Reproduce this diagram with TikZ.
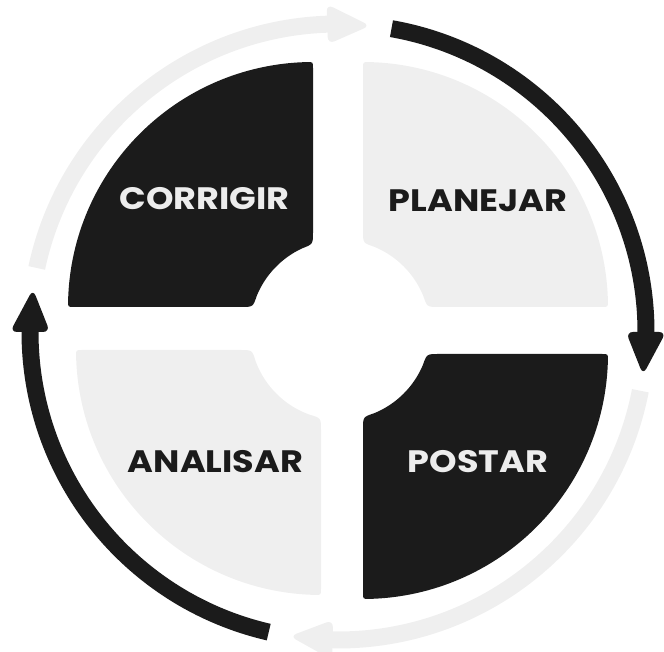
\documentclass[tikz,border=0pt]{standalone}
\usepackage{fontspec}
\newfontfamily\lblfont{Poppins}[FakeStretch=1.13]
\definecolor{dk}{HTML}{1B1B1B}
\definecolor{lt}{HTML}{EFEFEF}
\definecolor{lttext}{HTML}{EDEDED}
\def\hx{340}\def\hy{322}\def\rh{90}\def\Ro{245}\def\qfo{6}\def\qfi{12}
\newcommand\quadshape[7]{%
 \pgfmathsetmacro\qEx{\hx+(#5)*sqrt(\rh*\rh-((#2)-\hy)*((#2)-\hy))}%
 \pgfmathsetmacro\qDy{\hy+(#6)*sqrt(\rh*\rh-((#1)-\hx)*((#1)-\hx))}%
 \pgfmathsetmacro\qtE{atan2((#2)-\hy,\qEx-\hx)}%
 \pgfmathsetmacro\qtD{atan2(\qDy-\hy,(#1)-\hx)}%
 \pgfmathsetmacro\qdo{\qfo/\Ro*180/pi}%
 \pgfmathsetmacro\qdi{\qfi/\rh*180/pi}%
 \pgfmathsetmacro\qso{((#4)>(#3))*2-1}%
 \pgfmathsetmacro\qsi{(\qtE>\qtD)*2-1}%
 \pgfmathsetmacro\qaA{(#3)+\qso*\qdo}%
 \pgfmathsetmacro\qaB{(#4)-\qso*\qdo}%
 \pgfmathsetmacro\qaD{\qtD+\qsi*\qdi}%
 \pgfmathsetmacro\qaE{\qtE-\qsi*\qdi}%
 \fill[#7] ({\qEx+(#5)*\qfi},{#2}) -- ({#1+(#5)*(\Ro-\qfo)},{#2})
   .. controls ({#1+(#5)*\Ro},{#2}) .. ({#1+\Ro*cos(\qaA)},{#2+\Ro*sin(\qaA)})
   arc[start angle=\qaA, end angle=\qaB, radius=\Ro]
   .. controls ({#1},{#2+(#6)*\Ro}) .. ({#1},{#2+(#6)*(\Ro-\qfo)})
   -- ({#1},{\qDy+(#6)*\qfi})
   .. controls ({#1},{\qDy}) .. ({\hx+\rh*cos(\qaD)},{\hy+\rh*sin(\qaD)})
   arc[start angle=\qaD, end angle=\qaE, radius=\rh]
   .. controls ({\qEx},{#2}) .. ({\qEx+(#5)*\qfi},{#2}) -- cycle;
}
% ring arrow: #1 start angle, #2 base angle, #3 tip angle, #4 colour
\def\RR{308}\def\lw{17}\def\hw{20}
\newcommand\ringarrow[4]{%
 \draw[#4, line width=\lw pt] (#1:\RR) arc[start angle=#1, end angle={#2+(#3-#2)*0.15}, radius=\RR];
 \fill[#4, rounded corners=7pt] (#2:\RR+\hw) -- (#3:\RR) -- (#2:\RR-\hw) -- cycle;
}
\tikzset{
 lbl/.style={font=\lblfont\bfseries\fontsize{31}{31}\selectfont, anchor=base, inner sep=0pt},
}
\begin{document}
\begin{tikzpicture}[x=1pt,y=1pt]
\useasboundingbox (0,0) rectangle (664,652);
\quadshape{313}{345}{180}{90}{-1}{1}{dk}
\quadshape{363}{345}{0}{90}{1}{1}{lt}
\quadshape{363}{298}{0}{-90}{1}{-1}{dk}
\quadshape{321}{302}{180}{270}{-1}{-1}{lt}
\begin{scope}[shift={(338,320)}]
 \ringarrow{80}{0}{-8}{dk}
 \ringarrow{-11}{-91}{-99}{lt}
 \ringarrow{-103}{-180}{-188}{dk}
 \ringarrow{168}{92}{84}{lt}
\end{scope}
\node[lbl, text=lttext] (corrigir) at (204.5,442) {CORRIGIR};
\node[lbl, text=dk] (planejar) at (478,440.5) {PLANEJAR};
\node[lbl, text=lttext] (postar) at (478,179.5) {POSTAR};
\node[lbl, text=dk] (analisar) at (215.5,179.5) {ANALISAR};
\end{tikzpicture}
\end{document}
